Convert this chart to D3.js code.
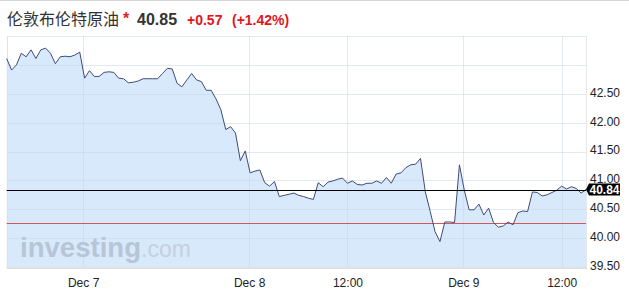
<!DOCTYPE html>
<html>
<head>
<meta charset="utf-8">
<script src="https://cdn.jsdelivr.net/npm/d3@7/dist/d3.min.js"></script>
<style>
  html, body { margin: 0; padding: 0; background: #fff; }
  svg { display: block; font-family: Arial, "Liberation Sans", sans-serif; }
</style>
</head>
<body>
<div id="chart"></div>
<script>
// Brent oil, intraday quotes (oldest first)
const prices = [
  43.11, 42.91, 43.00, 43.20, 43.14, 43.26, 43.11, 43.26, 43.29, 43.20,
  43.02, 43.14, 43.15, 43.14, 43.17, 43.22, 42.77, 42.90, 42.80, 42.80,
  42.87, 42.88, 42.87, 42.77, 42.76, 42.69, 42.70, 42.72, 42.76, 42.76,
  42.76, 42.76, 42.85, 42.94, 42.93, 42.68, 42.62, 42.74, 42.85, 42.74,
  42.71, 42.56, 42.56, 42.41, 42.22, 41.88, 41.93, 41.82, 41.34, 41.51,
  41.13, 41.16, 41.18, 40.96, 40.90, 40.98, 40.72, 40.74, 40.76, 40.78,
  40.74, 40.72, 40.69, 40.67, 40.96, 40.89, 40.97, 40.99, 41.02, 41.04,
  40.95, 40.99, 40.93, 40.92, 40.95, 40.95, 40.99, 40.95, 41.05, 40.95,
  41.11, 41.13, 41.22, 41.27, 41.28, 41.38, 40.80, 40.46, 40.11, 39.94,
  40.28, 40.28, 40.27, 41.27, 40.83, 40.49, 40.49, 40.59, 40.40, 40.52,
  40.27, 40.19, 40.21, 40.28, 40.23, 40.44, 40.47, 40.46, 40.80, 40.79,
  40.73, 40.75, 40.79, 40.83, 40.90, 40.85, 40.89, 40.86, 40.78, 40.84
]

// x ticks sit between quotes (index based axis)
const xTickPos = [15.7, 49.8, 70.0, 93.8, 114.0]
const xTickLabels = ['Dec 7', 'Dec 8', '12:00', 'Dec 9', '12:00']

const yTicks = [39.5, 40.0, 40.5, 41.0, 41.5, 42.0, 42.5]
const yGrid = [39.5, 40.0, 40.5, 41.0, 41.5, 42.0, 42.5, 43.0, 43.5]

const lastPrice = 40.84
const prevClose = 40.27

const title = '伦敦布伦特原油'
const quote = '40.85'
const change = '+0.57'
const changePct = '(+1.42%)'

const width = 629
const height = 304
const plotL = 6.7, plotR = 586, plotT = 36, plotB = 267

const svg = d3.select('#chart').append('svg')
  .attr('width', width)
  .attr('height', height)

const x = d3.scaleLinear().domain([0, prices.length - 1]).range([plotL, plotR])
const y = d3.scaleLinear().domain([39.5, 43.5]).range([plotB, plotT])

// page top rule
svg.append('line')
  .attr('x1', 0).attr('x2', width).attr('y1', 0.5).attr('y2', 0.5)
  .attr('stroke', '#d6d6d6')

// header
svg.append('text').attr('x', 7).attr('y', 25)
  .attr('font-family', '"Noto Sans CJK SC", sans-serif')
  .attr('font-size', 16).attr('fill', '#333')
  .text(title)
svg.append('text').attr('x', 123).attr('y', 24)
  .attr('font-size', 16).attr('font-weight', 'bold').attr('fill', '#e8202a')
  .text('*')
svg.append('text').attr('x', 137).attr('y', 25)
  .attr('font-size', 16).attr('font-weight', 'bold').attr('fill', '#333')
  .text(quote)
svg.append('text').attr('x', 187).attr('y', 25)
  .attr('font-size', 14).attr('font-weight', 'bold').attr('fill', '#e3141c')
  .text(change)
svg.append('text').attr('x', 232).attr('y', 25)
  .attr('font-size', 14).attr('font-weight', 'bold').attr('fill', '#e3141c')
  .text(changePct)

// area + line
const area = d3.area()
  .x((d, i) => x(i))
  .y0(plotB)
  .y1(d => y(d))

const line = d3.line()
  .x((d, i) => x(i))
  .y(d => y(d))

svg.append('path')
  .datum(prices)
  .attr('d', area)
  .attr('fill', '#d9e9fc')

// grid
svg.append('g').selectAll('line')
  .data(yGrid)
  .enter().append('line')
  .attr('x1', plotL).attr('x2', plotR)
  .attr('y1', d => Math.round(y(d)) + 0.5)
  .attr('y2', d => Math.round(y(d)) + 0.5)
  .attr('stroke', '#c8d3e2').attr('stroke-opacity', 0.5)

svg.append('g').selectAll('line')
  .data(xTickPos)
  .enter().append('line')
  .attr('x1', d => Math.round(x(d)) + 0.5)
  .attr('x2', d => Math.round(x(d)) + 0.5)
  .attr('y1', plotT).attr('y2', plotB)
  .attr('stroke', '#c8d3e2').attr('stroke-opacity', 0.5)

// frame
svg.append('line')
  .attr('x1', Math.round(plotL) + 0.5).attr('x2', Math.round(plotL) + 0.5)
  .attr('y1', plotT).attr('y2', plotB)
  .attr('stroke', '#dde2ea')
svg.append('line')
  .attr('x1', plotR + 0.5).attr('x2', plotR + 0.5)
  .attr('y1', plotT).attr('y2', plotB)
  .attr('stroke', '#e4e7ec')
svg.append('line')
  .attr('x1', plotL).attr('x2', plotR + 1)
  .attr('y1', plotB + 1).attr('y2', plotB + 1)
  .attr('stroke', '#e0e0e0').attr('stroke-width', 2)

// watermark
const wm = svg.append('text').attr('x', 20).attr('y', 257)
wm.append('tspan')
  .attr('font-size', 28).attr('font-weight', 'bold').attr('fill', '#b7c5d7')
  .attr('textLength', 121).attr('lengthAdjust', 'spacingAndGlyphs')
  .text('investing')
wm.append('tspan')
  .attr('font-size', 23).attr('fill', '#c3d0e1')
  .text('.com')

// previous close & last price rules
svg.append('line')
  .attr('x1', plotL).attr('x2', plotR)
  .attr('y1', Math.round(y(prevClose)) + 0.5).attr('y2', Math.round(y(prevClose)) + 0.5)
  .attr('stroke', '#d0585a')

svg.append('path')
  .datum(prices)
  .attr('d', line)
  .attr('fill', 'none')
  .attr('stroke', '#3e4c78')
  .attr('stroke-width', 1)
  .attr('stroke-linejoin', 'round')

const ly = Math.round(y(lastPrice)) + 0.5
svg.append('line')
  .attr('x1', plotL).attr('x2', plotR)
  .attr('y1', ly).attr('y2', ly)
  .attr('stroke', '#000')

// axes
const yAxis = svg.append('g')
  .attr('transform', `translate(${plotR},0)`)
  .call(d3.axisRight(y).tickValues(yTicks).tickFormat(d3.format('.2f')).tickSize(0).tickPadding(4))
yAxis.select('.domain').remove()
yAxis.selectAll('text')
  .attr('font-size', 12).attr('font-family', 'Arial, "Liberation Sans", sans-serif')
  .attr('fill', '#222').attr('dy', '0.2em')

const xAxis = svg.append('g')
  .attr('transform', `translate(0,${plotB})`)
  .call(d3.axisBottom(x).tickValues(xTickPos).tickFormat((d, i) => xTickLabels[i]).tickSize(0).tickPadding(11))
xAxis.select('.domain').remove()
xAxis.selectAll('text')
  .attr('font-size', 12).attr('font-family', 'Arial, "Liberation Sans", sans-serif')
  .attr('fill', '#222')

// last price tag
const tag = svg.append('g').attr('transform', `translate(${plotR},${y(lastPrice)})`)
tag.append('path')
  .attr('d', 'M0,0 L3,-6 L34,-6 L34,6 L3,6 Z')
  .attr('fill', '#000')
tag.append('text')
  .attr('x', 3.5).attr('dy', '0.36em')
  .attr('font-size', 12).attr('font-weight', 'bold').attr('fill', '#fff')
  .text(d3.format('.2f')(lastPrice))
</script>
</body>
</html>
